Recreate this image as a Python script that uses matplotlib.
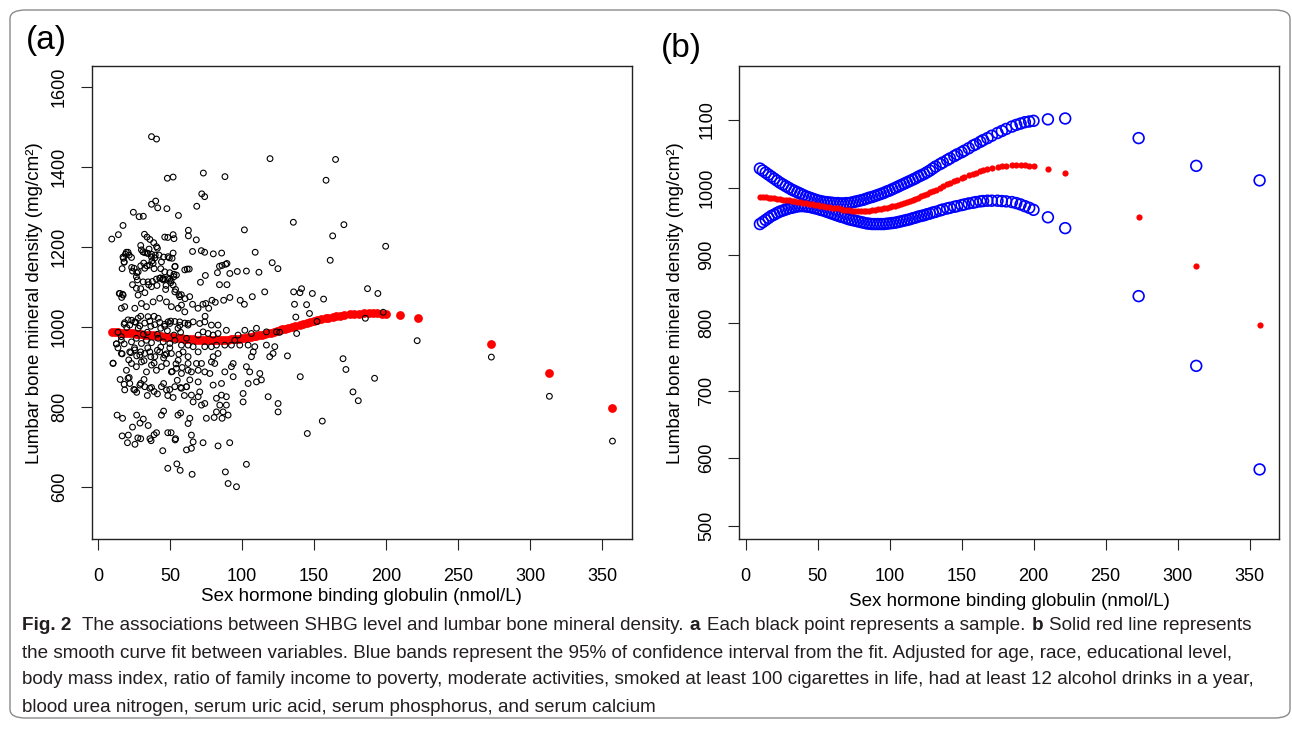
import matplotlib
matplotlib.use("Agg")
import matplotlib.pyplot as plt
from matplotlib.patches import FancyBboxPatch

plt.rcParams['font.family'] = ['Liberation Sans', 'DejaVu Sans']

# ---- panel (a): samples, SHBG (nmol/L) vs lumbar BMD (mg/cm2) ----
shbg = [
    37.1, 40.6, 119.4, 164.9, 48.1, 52.1, 88.1, 73.1, 158.3,
    72.0, 74.0, 68.5, 37.1, 40.0, 47.8, 41.4,
    24.5, 28.5, 31.4, 55.8, 135.6, 170.7, 101.6, 62.7, 62.7, 162.9, 9.5, 14.1, 17.3,
    32.2, 34.0, 36.0, 46.3, 48.4, 52.1, 52.7, 68.2,
    38.6, 40.6, 199.7, 17.3, 18.1, 19.6, 21.6, 23.3, 29.6, 31.1, 34.0, 35.4, 37.1,
    39.7, 42.3, 45.5, 49.5, 52.1, 53.5, 61.9, 65.6, 71.7, 74.0, 80.0, 85.8, 86.1,
    89.5, 161.2,
    16.7, 23.9, 26.8, 29.6, 31.7, 34.0, 37.4, 38.9, 43.5, 49.8, 52.7, 63.3, 71.1,
    74.5, 82.9, 84.3, 88.6, 91.5, 96.7, 103.0, 111.7, 120.9, 124.9, 109.1, 43.2,
    45.5, 47.2, 48.4, 50.7, 52.7, 84.3, 89.5,
    14.7, 16.4, 17.0, 23.9, 27.3, 29.6, 32.5, 35.1, 37.7, 40.9, 44.9, 46.9, 50.4,
    53.8, 56.1, 57.8, 60.4, 63.6, 65.6, 69.4, 72.8, 74.8, 76.8, 79.1, 81.4, 87.2,
    91.5, 98.7, 101.6, 107.1, 115.7, 135.8, 140.2, 141.3, 148.8, 187.1, 194.3,
    156.6, 144.8, 136.4, 146.8, 137.3, 152.0, 185.6, 198.0, 74.3,
    12.7, 13.8, 16.1, 18.1, 19.9, 23.3, 26.2, 27.9, 29.6, 31.4, 34.2, 36.6, 38.9,
    41.2, 43.5, 46.3, 48.1, 50.4, 52.7, 55.5, 57.3, 126.1, 137.9,
    10.4, 13.8, 16.7, 18.1, 21.3, 22.7, 25.3, 26.8, 29.6, 31.9, 34.5, 36.6, 38.9,
    41.2, 43.5, 45.5, 47.5, 49.8, 51.5, 54.1, 56.1, 58.4, 131.5, 170.1, 172.1, 221.6,
    15.3, 18.1, 21.6, 24.8, 26.8, 29.6, 31.9, 34.2, 37.1, 38.9, 41.2, 45.5, 48.4,
    49.8, 52.1, 55.0, 57.3, 59.9, 140.4, 192.0, 177.0, 180.7,
    13.2, 17.0, 23.9, 26.8, 29.1, 31.4, 34.8, 36.8, 38.9, 40.6, 44.0, 45.5, 48.4,
    50.7, 53.5, 55.5, 57.3, 155.7, 145.3, 273.1, 313.4, 357.2,
    16.7, 21.0, 20.4, 25.6, 27.6, 29.6, 36.0, 44.9, 48.4, 53.8, 54.7, 57.0,
    # x 60-126, below 1016
    62.5, 66.0, 70.6, 74.1, 78.7, 83.3, 89.1, 69.5, 72.9, 76.4, 79.9, 83.3, 97.2,
    101.9, 106.5, 110.0, 116.9, 123.9,
    62.5, 66.0, 69.5, 74.1, 78.7, 82.2, 83.3, 88.0, 92.6, 94.9, 98.4, 104.2, 108.8,
    107.7, 116.9, 122.7, 121.5, 119.2, 106.5, 79.9,
    62.5, 68.3, 71.8, 78.7, 81.0, 88.0, 92.6, 93.8, 103.0, 105.3, 112.3, 113.4,
    110.0, 104.2, 93.8, 85.7, 79.9, 64.8, 69.5, 74.1, 77.6, 63.7, 69.5, 61.4,
    70.6, 69.5, 64.8, 66.0, 71.8, 74.1, 82.2, 85.7, 89.1, 100.7, 100.7, 118.1,
    125.0, 125.0, 84.5, 89.1, 82.2, 86.8, 75.2, 80.6, 86.1, 90.3, 63.7, 62.5,
    64.8, 66.0, 64.8, 61.4, 72.9, 83.3, 91.4, 103.0, 65.3, 88.4, 90.3, 96.1,
    # dense core, x < 62, below 1016
    18.5, 22.0, 25.5, 29.0, 32.4, 35.9, 39.4, 42.8, 46.3, 49.8, 53.3, 56.7, 60.2,
    16.2, 12.7, 23.2, 26.6, 30.1, 33.6, 37.1, 41.7, 45.2, 49.8, 53.3, 57.9, 61.4,
    16.2, 22.0, 25.5, 29.0, 32.4, 35.9, 39.4, 42.8, 46.3, 50.9, 55.6, 59.0, 62.5, 10.4,
    19.7, 23.2, 26.6, 30.1, 33.6, 37.1, 40.5, 44.0, 47.5, 50.9, 54.4, 57.9, 62.5,
    20.8, 22.0, 18.5, 25.5, 29.0, 32.4, 35.9, 44.0, 47.5, 53.3, 57.9, 61.4,
    # dense core, x < 62, above 1004
    30.1, 32.4, 34.7, 20.8, 19.0, 17.6, 18.1, 23.2, 37.1, 39.4, 41.2, 48.6, 51.4,
    53.3, 60.2, 25.0, 27.8, 26.6, 32.4, 35.9, 38.2, 44.0, 46.3, 54.4, 15.1, 17.4,
    16.2, 18.5, 26.6, 27.8, 31.3, 34.7, 37.1, 40.5, 42.8, 45.2, 49.8, 52.1, 53.3,
    56.7, 57.9, 25.5, 30.1, 33.6, 38.2, 42.8, 47.5, 50.9, 55.6, 60.2, 20.8, 27.8,
    34.7, 41.7, 48.6, 56.7, 62.5,
]
bmd = [
    1475, 1469, 1420, 1418, 1371, 1374, 1375, 1384, 1366,
    1332, 1325, 1301, 1306, 1314, 1295, 1297,
    1286, 1275, 1276, 1278, 1261, 1255, 1242, 1241, 1227, 1227, 1219, 1230, 1253,
    1231, 1224, 1218, 1224, 1223, 1230, 1220, 1217,
    1210, 1200, 1201, 1174, 1162, 1186, 1179, 1148, 1203, 1187, 1184, 1194, 1174,
    1179, 1179, 1174, 1172, 1184, 1151, 1144, 1188, 1190, 1186, 1182, 1184, 1153,
    1158, 1166,
    1145, 1139, 1135, 1152, 1159, 1152, 1164, 1145, 1145, 1135, 1131, 1144, 1111,
    1128, 1135, 1151, 1156, 1133, 1138, 1139, 1136, 1160, 1145, 1186, 1122,
    1120, 1103, 1120, 1115, 1125, 1105, 1105,
    1083, 1073, 1081, 1105, 1117, 1095, 1085, 1105, 1113, 1103, 1120, 1093, 1110,
    1093, 1080, 1080, 1070, 1075, 1056, 1046, 1056, 1058, 1046, 1066, 1061, 1066,
    1073, 1066, 1056, 1075, 1087, 1087, 1085, 1095, 1083, 1095, 1083,
    1069, 1055, 1056, 1033, 1024, 1013, 1021, 1036, 1026,
    957, 986, 975, 1006, 998, 1016, 1011, 996, 1026, 981, 986, 1001, 1026,
    981, 996, 1006, 990, 1014, 979, 996, 986, 986, 983,
    909, 947, 932, 957, 917, 935, 947, 927, 937, 915, 947, 925, 909,
    941, 949, 922, 932, 947, 888, 907, 931, 898, 927, 920, 893, 965,
    868, 856, 873, 843, 836, 858, 868, 828, 848, 838, 832, 858, 828,
    843, 823, 866, 848, 828, 875, 871, 837, 815,
    779, 771, 749, 779, 759, 769, 753, 715, 730, 735, 779, 789, 735,
    735, 717, 779, 784, 764, 733, 924, 826, 714,
    727, 729, 710, 706, 722, 720, 720, 690, 646, 720, 657, 641,
    1008, 1012, 1008, 1012, 1004, 1004, 991, 979, 987, 983, 979, 983, 979,
    991, 983, 996, 987, 987,
    954, 950, 937, 950, 950, 954, 933, 954, 954, 966, 954, 954, 950,
    937, 954, 950, 933, 925, 925, 925,
    908, 908, 908, 912, 908, 887, 900, 908, 900, 887, 883, 867,
    862, 858, 875, 858, 854, 887, 891, 887, 883, 867, 862, 850,
    837, 825, 829, 812, 804, 808, 821, 829, 825, 833, 812, 825,
    808, 787, 804, 804, 787, 787, 771, 773, 771, 779, 771, 758,
    729, 712, 696, 692, 710, 702, 710, 656, 631, 637, 608, 600,
    1010, 1004, 1012, 1002, 1009, 1014, 1005, 1011, 1001, 1008, 1013, 1003, 1009,
    966, 957, 962, 971, 958, 966, 960, 971, 962, 958, 966, 954, 971,
    933, 937, 942, 929, 933, 937, 925, 937, 929, 933, 916, 937, 925, 908,
    891, 908, 900, 912, 887, 904, 891, 900, 908, 887, 896, 883, 891,
    871, 858, 842, 842, 854, 850, 846, 850, 842, 850, 846, 850,
    1192, 1185, 1183, 1186, 1181, 1171, 1161, 1173, 1181, 1172, 1196, 1175, 1171,
    1150, 1142, 1146, 1137, 1125, 1146, 1154, 1158, 1162, 1137, 1129, 1083, 1079,
    1046, 1050, 1096, 1079, 1112, 1112, 1100, 1119, 1121, 1117, 1119, 1104, 1087,
    1075, 1054, 1046, 1058, 1050, 1062, 1071, 1062, 1050, 1046, 1037, 1017, 1021,
    1025, 1021, 1012, 1012, 1004,
]

# ---- smooth curve fit and 95% CI (evaluated at sample SHBG values) ----
fit_x = [
    10, 12, 14, 16, 18, 20, 22, 24, 26, 28, 30, 32, 34, 36, 38, 40, 42, 44, 46, 48,
    50, 52, 54, 56, 58, 60, 62, 64, 66, 68, 70, 72, 74, 76, 78, 80, 82, 84, 86, 88,
    90, 92, 94, 96, 98, 100, 102, 104, 106, 108, 110, 112, 114, 116, 118, 120, 122,
    124, 126, 128, 130, 132, 135, 137, 140, 142, 145, 147, 150, 152, 155, 158, 160,
    163, 165, 168, 171, 175, 178, 181, 185, 188, 191, 194, 197, 200, 210, 222, 273,
    313, 357,
]
fit_y = [
    986.5, 986, 985.5, 985, 984.5, 984, 983.5, 983, 982, 981.5, 981, 980, 979.5, 979,
    978, 977.5, 977, 976, 975, 974.5, 974, 973, 972, 971.5, 971, 970, 969.5, 969, 968,
    967.5, 967, 966.5, 966, 966, 965.5, 965.5, 965.5, 966, 966, 966.5, 967, 968, 968.5,
    969.5, 970, 971, 972, 973, 974.5, 975.5, 977, 978.5, 980, 981.5, 983, 985, 987,
    989, 991, 993, 995, 997, 1000, 1002, 1005, 1007, 1009.5, 1011, 1014, 1015.5, 1018,
    1020.5, 1022, 1024, 1025.5, 1027.5, 1029, 1030.5, 1031.5, 1032.5, 1033, 1033.5,
    1033.5, 1033, 1032.5, 1032, 1028, 1021, 956, 884, 797,
]
ci_upper = [
    1028, 1025, 1022, 1019, 1016, 1013, 1010, 1007, 1004.5, 1002, 999.5, 997, 995, 993,
    991, 989, 987, 985.5, 984, 982.5, 981, 980, 979, 978.5, 978, 977.5, 977, 977, 976.5,
    976.5, 977, 977, 978, 979, 980, 981, 982, 983.5, 985, 986, 987.5, 989, 990.5, 992,
    994, 995.5, 997.5, 999.5, 1001.5, 1003.5, 1005.5, 1007.5, 1009.5, 1011.5, 1013.5,
    1016, 1018, 1020, 1022.5, 1025, 1028, 1031, 1034.5, 1037, 1040.5, 1043, 1046.5,
    1049, 1052, 1054.5, 1058, 1062, 1064, 1067.5, 1070, 1073, 1076.5, 1080.5, 1083.5,
    1086.5, 1090, 1092.5, 1094.5, 1096.5, 1097.5, 1098.5, 1100.7, 1102, 1073, 1032,
    1010.5,
]
ci_lower = [
    946, 949, 952, 955, 958, 960, 962.5, 964.5, 966, 967.5, 969, 970, 971, 972, 972.5,
    972.5, 972, 971.5, 970.5, 969.5, 968.5, 967, 966, 964.5, 963, 961.5, 960, 958.5, 957,
    956, 954.5, 953, 952, 951, 950, 949, 948, 947, 946.5, 946, 946, 946, 946, 946, 946.5,
    947, 947.5, 948, 949, 950, 951, 952, 953, 954.5, 955.5, 957, 958, 959, 960.5, 961.5,
    963, 964, 966, 967.5, 969, 970, 971.5, 972.5, 974, 975, 976.5, 977.5, 978.5, 979.5,
    980, 980.5, 980.5, 980.5, 980, 979.5, 978.5, 977, 975, 972.5, 970, 967, 956, 940,
    839.5, 736.5, 583.5,
]

x_ticks = [0, 50, 100, 150, 200, 250, 300, 350]
y_ticks_a = [600, 800, 1000, 1200, 1400, 1600]
y_ticks_b = [500, 600, 700, 800, 900, 1000, 1100]
x_label = 'Sex hormone binding globulin (nmol/L)'
y_label = 'Lumbar bone mineral density (mg/cm\u00b2)'

fig = plt.figure(figsize=(12.92, 7.30), dpi=100)
ax1 = fig.add_axes([0.0709, 0.2612, 0.4183, 0.6478])
ax2 = fig.add_axes([0.5720, 0.2612, 0.4183, 0.6478])

ax1.scatter(fit_x, fit_y, s=40, color='#ff0000', linewidths=0, zorder=2)
ax1.scatter(shbg, bmd, s=17, facecolors='none', edgecolors='#000000',
            linewidths=0.8, zorder=3)

ax2.scatter(fit_x, ci_upper, s=60, facecolors='none', edgecolors='#0000ff',
            linewidths=1.2, zorder=2)
ax2.scatter(fit_x, ci_lower, s=60, facecolors='none', edgecolors='#0000ff',
            linewidths=1.2, zorder=2)
ax2.scatter(fit_x, fit_y, s=20, color='#ff0000', linewidths=0, zorder=3)

for ax, yt, ylim, lab_x, xpad in [(ax1, y_ticks_a, (468.5, 1650.5), -0.090, 2),
                                  (ax2, y_ticks_b, (480.2, 1178.9), -0.101, 6)]:
    ax.set_xlim(-4.5, 370.8)
    ax.set_ylim(*ylim)
    ax.set_xticks(x_ticks)
    ax.set_yticks(yt)
    ax.tick_params(length=8, width=0.8, labelsize=13, color='#222222')
    ax.tick_params(axis='x', pad=12.5)
    ax.tick_params(axis='y', labelrotation=90, pad=9)
    for t in ax.get_yticklabels():
        t.set_va('center')
    for sp in ax.spines.values():
        sp.set_linewidth(1.0)
        sp.set_color('#222222')
    ax.set_xlabel(x_label, fontsize=13.5, labelpad=xpad)
    ax.set_ylabel(y_label, fontsize=13.5)
    ax.yaxis.set_label_coords(lab_x, 0.5)

fig.text(46 / 1292, 1 - 40 / 730, '(a)', fontsize=24, ha='center', va='center')
fig.text(681 / 1292, 1 - 48 / 730, '(b)', fontsize=24, ha='center', va='center')

# rounded frame round the figure
frame = FancyBboxPatch((10 / 1292, 1 - 718 / 730), 1280 / 1292, 708 / 730,
                       boxstyle='round,pad=0,rounding_size=0.012',
                       transform=fig.transFigure, fill=False,
                       edgecolor='#8a8a8a', linewidth=1.0)
fig.patches.append(frame)

# caption, with bold pieces placed one after another
cap_font = ['Liberation Sans Narrow', 'Liberation Sans', 'DejaVu Sans']
cap_size = 13.6
caption = [
    [('Fig. 2', 'bold', 2), ('The associations between SHBG level and lumbar bone mineral density.', 'normal', 1),
     ('a', 'bold', 1), ('Each black point represents a sample.', 'normal', 1),
     ('b', 'bold', 1), ('Solid red line represents', 'normal', 0)],
    [('the smooth curve fit between variables. Blue bands represent the 95% of confidence '
      'interval from the fit. Adjusted for age, race, educational level,', 'normal', 0)],
    [('body mass index, ratio of family income to poverty, moderate activities, smoked at '
      'least 100 cigarettes in life, had at least 12 alcohol drinks in a year,', 'normal', 0)],
    [('blood urea nitrogen, serum uric acid, serum phosphorus, and serum calcium', 'normal', 0)],
]
line_y = [625, 653, 680, 707]
renderer = fig.canvas.get_renderer()
space_px = cap_size * 100 / 72 * 0.23
for pieces, yp in zip(caption, line_y):
    x_px = 22
    for txt, wt, gaps in pieces:
        t = fig.text(x_px / 1292, 1 - yp / 730, txt, fontsize=cap_size, fontweight=wt,
                     family=cap_font, color='#231f20', ha='left', va='center')
        bb = t.get_window_extent(renderer)
        x_px = bb.x1 + space_px * gaps + 2

fig.savefig('out.png', dpi=100)
